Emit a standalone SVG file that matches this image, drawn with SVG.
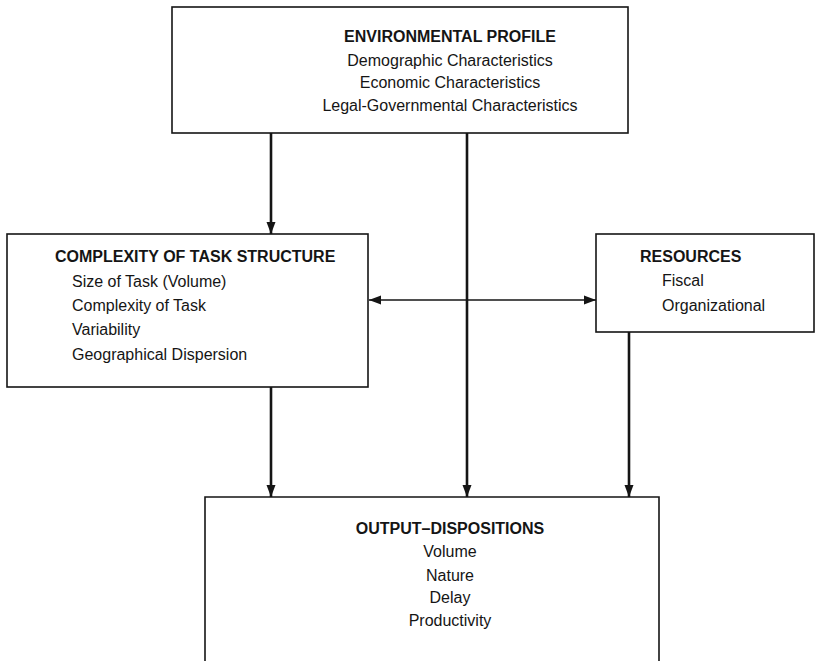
<svg xmlns="http://www.w3.org/2000/svg" width="818" height="661" viewBox="0 0 818 661">
<style>
text{font-family:"Liberation Sans",Arial,Helvetica,sans-serif;font-size:16px;fill:#151515}
.t{font-weight:bold}
.c{text-anchor:middle}
.box{fill:#fff;stroke:#151515;stroke-width:1.6}
.arr{stroke:#151515;stroke-width:2.6;fill:none}
.thin{stroke:#151515;stroke-width:1.6;fill:none}
</style>
<defs>
<marker id="ah" markerUnits="userSpaceOnUse" markerWidth="13" markerHeight="10" refX="12" refY="5" orient="auto">
<path d="M0,0.5 L12,5 L0,9.5 z" fill="#151515"/>
</marker>
<marker id="ahs" markerUnits="userSpaceOnUse" markerWidth="13" markerHeight="10" refX="0" refY="5" orient="auto">
<path d="M12,0.5 L0,5 L12,9.5 z" fill="#151515"/>
</marker>
</defs>
<rect width="818" height="661" fill="#fff"/>
<g id="connectors">
<line class="arr" x1="271" y1="133" x2="271" y2="234" marker-end="url(#ah)"/>
<line class="arr" x1="467" y1="133" x2="467" y2="497" marker-end="url(#ah)"/>
<line class="arr" x1="271" y1="387" x2="271" y2="497" marker-end="url(#ah)"/>
<line class="arr" x1="629" y1="332" x2="629" y2="497" marker-end="url(#ah)"/>
<line class="thin" x1="369" y1="300" x2="596" y2="300" marker-start="url(#ahs)" marker-end="url(#ah)"/>
</g>
<g id="environmental-profile">
<rect class="box" x="172" y="7" width="456" height="126"/>
<text class="t c" x="450" y="42">ENVIRONMENTAL PROFILE</text>
<text class="c" x="450" y="66">Demographic Characteristics</text>
<text class="c" x="450" y="88">Economic Characteristics</text>
<text class="c" x="450" y="111">Legal-Governmental Characteristics</text>
</g>
<g id="complexity">
<rect class="box" x="7" y="234" width="361" height="153"/>
<text class="t" x="55" y="262">COMPLEXITY OF TASK STRUCTURE</text>
<text x="72" y="287">Size of Task (Volume)</text>
<text x="72" y="311">Complexity of Task</text>
<text x="72" y="335">Variability</text>
<text x="72" y="360">Geographical Dispersion</text>
</g>
<g id="resources">
<rect class="box" x="596" y="234" width="218" height="98"/>
<text class="t" x="640" y="262">RESOURCES</text>
<text x="662" y="286">Fiscal</text>
<text x="662" y="311">Organizational</text>
</g>
<g id="output-dispositions">
<path class="box" d="M205,661 L205,497 L659,497 L659,661"/>
<text class="t c" x="450" y="534">OUTPUT–DISPOSITIONS</text>
<text class="c" x="450" y="557">Volume</text>
<text class="c" x="450" y="581">Nature</text>
<text class="c" x="450" y="603">Delay</text>
<text class="c" x="450" y="626">Productivity</text>
</g>
</svg>
